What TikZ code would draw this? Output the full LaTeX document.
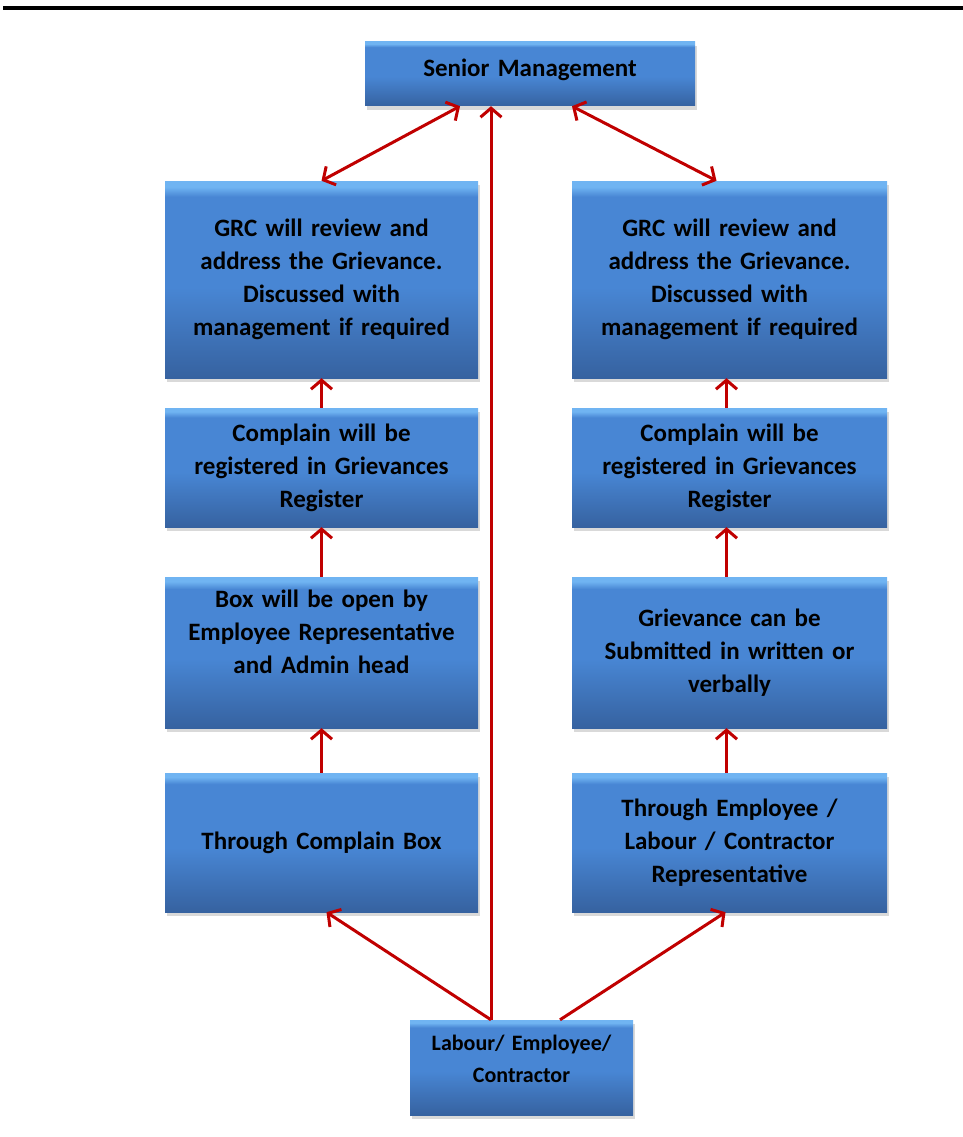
\documentclass[tikz,border=0pt]{standalone}
\usepackage{fontspec}
\setmainfont{Carlito}
\usepackage{tikz}
\usetikzlibrary{arrows.meta,positioning,shadows,calc}
\definecolor{boxtop}{RGB}{112,180,242}
\definecolor{boxmid}{RGB}{72,134,212}
\definecolor{boxbot}{RGB}{54,98,160}
\definecolor{flowred}{RGB}{192,0,0}
\pgfdeclareverticalshading{boxshade}{100bp}{color(0bp)=(boxbot); color(25bp)=(boxbot); color(48bp)=(boxmid); color(71bp)=(boxmid); color(73.5bp)=(boxtop); color(100bp)=(boxtop)}
\tikzset{
	stage/.style={rectangle, shading=boxshade, inner sep=0pt, align=center,
		minimum width=313pt, text width=300pt,
		font=\fontsize{25}{33}\selectfont\bfseries,
		drop shadow={opacity=0.3, shadow xshift=2pt, shadow yshift=-4pt}},
	flow/.style={draw=flowred, line width=3pt}
}
\begin{document}
\begin{tikzpicture}[x=1pt,y=-1pt,>={Straight Barb[length=9pt,width=21pt]}]
			\useasboundingbox (0,0) rectangle (963,1137);
			%top rule
			\draw[line width=4.5pt] (3,8) -- (963,8);
			%top
			\node[stage, minimum width=330pt, minimum height=64pt, text depth=12pt](sen) at (530,74){Senior Management};
			%leftpart
			\node[stage, minimum height=197pt](grcL) at (321.5,279.5){GRC will review and\\address the Grievance.\\Discussed with\\management if required};
			\node[stage, minimum height=119pt](regL) at (321.5,467.5){Complain will be\\registered in Grievances\\Register};
			\node[stage, minimum height=151pt, text depth=108pt](boxL) at (321.5,652.5){Box will be open by\\Employee Representative\\and Admin head};
			\node[stage, minimum height=139pt](thrL) at (321.5,842.5){Through Complain Box};
			%rightpart
			\node[stage, minimum width=315pt, minimum height=197pt](grcR) at (729.5,279.5){GRC will review and\\address the Grievance.\\Discussed with\\management if required};
			\node[stage, minimum width=315pt, minimum height=119pt](regR) at (729.5,467.5){Complain will be\\registered in Grievances\\Register};
			\node[stage, minimum width=315pt, minimum height=151pt](subR) at (729.5,652.5){Grievance can be\\Submitted in written or\\verbally};
			\node[stage, minimum width=315pt, minimum height=139pt](thrR) at (729.5,842.5){Through Employee /\\Labour / Contractor\\Representative};
			%bottom
			\node[stage, minimum width=223pt, minimum height=95pt, text width=215pt, text depth=49pt,
				font=\fontsize{22}{32}\selectfont\bfseries](lab) at (521.5,1067.5){Labour/ Employee/\\Contractor};
			%arrows
			\coordinate (foot) at ([xshift=-30.5pt]lab.north);
			\draw[flow,->] (foot) -- (foot |- sen.south);
			\draw[flow,->] (foot) -- ([xshift=5pt]thrL.south);
			\draw[flow,->] ([xshift=38.5pt]lab.north) -- ([xshift=-4pt]thrR.south);
			\draw[flow,<->] ([xshift=-70pt]sen.south) -- (grcL.north);
			\draw[flow,<->] ([xshift=42pt]sen.south) -- ([xshift=-13pt]grcR.north);
			\draw[flow,->] (thrL.north) -- (boxL.south);
			\draw[flow,->] (boxL.north) -- (regL.south);
			\draw[flow,->] (regL.north) -- (grcL.south);
			\draw[flow,->] ([xshift=-3pt]thrR.north) -- ([xshift=-3pt]subR.south);
			\draw[flow,->] ([xshift=-3pt]subR.north) -- ([xshift=-3pt]regR.south);
			\draw[flow,->] ([xshift=-3pt]regR.north) -- ([xshift=-3pt]grcR.south);
\end{tikzpicture}
\end{document}
